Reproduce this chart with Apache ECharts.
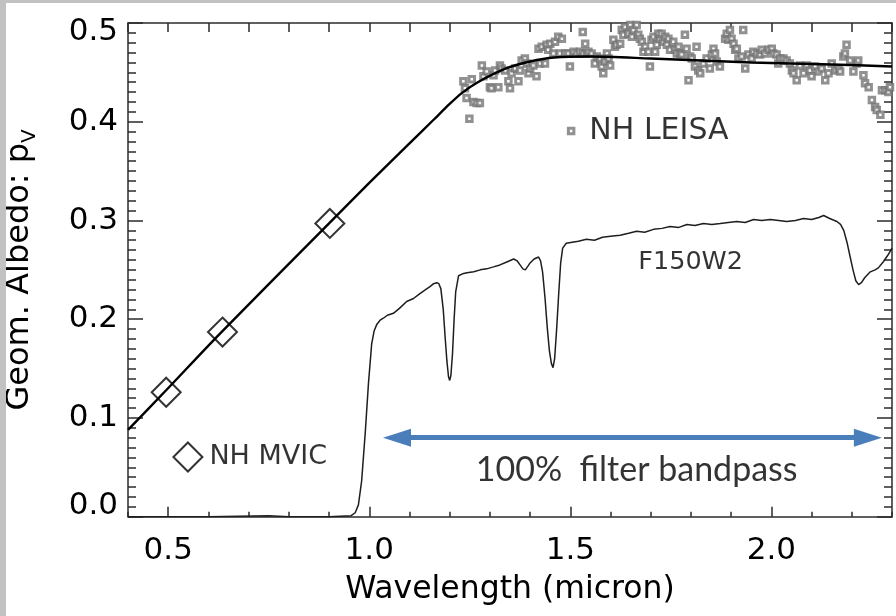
<!DOCTYPE html>
<html>
<head>
<meta charset="utf-8">
<script src="https://cdn.jsdelivr.net/npm/echarts@6/dist/echarts.min.js"></script>
<style>
  html, body { margin: 0; padding: 0; background: #c2c2c2; width: 896px; height: 616px; overflow: hidden; }
  #chart { position: absolute; left: 6px; top: 3px; width: 890px; height: 613px; }
  #probe { position: absolute; left: -2000px; top: 0; width: 890px; height: 613px; }
  #note { position: absolute; left: 140px; top: 40px; font: 11px monospace; white-space: pre; color: #c00; }
</style>
</head>
<body>
<div id="chart"></div>
<div id="probe"></div>
<pre id="note"></pre>
<script>
// Hapke-style model fit through the albedo points (micron, geometric albedo)
const modelWave   = [0.40, 0.49, 0.63, 0.90, 1.00, 1.10, 1.16, 1.20, 1.23, 1.27, 1.34, 1.40, 1.46, 1.55, 1.70, 1.95, 2.15, 2.30];
const modelAlbedo = [0.088, 0.126, 0.186, 0.297, 0.338, 0.378, 0.402, 0.418, 0.429, 0.440, 0.454, 0.461, 0.465, 0.466, 0.464, 0.460, 0.458, 0.456];

// New Horizons MVIC photometry
const mvicWave   = [0.495, 0.635, 0.902];
const mvicAlbedo = [0.126, 0.187, 0.297];

// New Horizons LEISA spectrum
const leisaWave = [
  1.234, 1.238, 1.242, 1.249, 1.255, 1.259, 1.267, 1.275, 1.280, 1.284, 1.292, 1.300, 1.304, 1.309, 1.313, 1.321,
  1.325, 1.329, 1.338, 1.346, 1.350, 1.354, 1.363, 1.371, 1.375, 1.379, 1.387, 1.392, 1.396, 1.400, 1.408, 1.416,
  1.421, 1.425, 1.429, 1.437, 1.441, 1.445, 1.450, 1.458, 1.462, 1.470, 1.474, 1.479, 1.487, 1.495, 1.499, 1.508,
  1.516, 1.524, 1.531, 1.532, 1.537, 1.541, 1.545, 1.553, 1.561, 1.566, 1.574, 1.578, 1.582, 1.586, 1.591, 1.595,
  1.599, 1.607, 1.611, 1.615, 1.624, 1.628, 1.632, 1.636, 1.644, 1.649, 1.653, 1.657, 1.665, 1.669, 1.673, 1.678,
  1.682, 1.686, 1.694, 1.698, 1.702, 1.707, 1.711, 1.715, 1.719, 1.723, 1.727, 1.731, 1.736, 1.740, 1.744, 1.748,
  1.756, 1.760, 1.765, 1.769, 1.773, 1.777, 1.785, 1.789, 1.794, 1.798, 1.802, 1.810, 1.814, 1.818, 1.823, 1.831,
  1.839, 1.847, 1.852, 1.856, 1.860, 1.864, 1.872, 1.885, 1.889, 1.893, 1.897, 1.901, 1.906, 1.910, 1.914, 1.918,
  1.926, 1.930, 1.935, 1.943, 1.951, 1.955, 1.964, 1.972, 1.976, 1.984, 1.993, 2.001, 2.005, 2.013, 2.017, 2.022,
  2.030, 2.038, 2.046, 2.051, 2.055, 2.063, 2.071, 2.080, 2.088, 2.096, 2.100, 2.109, 2.117, 2.125, 2.134, 2.142,
  2.150, 2.159, 2.167, 2.171, 2.179, 2.183, 2.187, 2.196, 2.204, 2.212, 2.216, 2.229, 2.233, 2.242, 2.250, 2.258,
  2.262, 2.271, 2.275, 2.283, 2.291, 2.295
];
const leisaAlbedo = [
  0.441, 0.434, 0.424, 0.403, 0.443, 0.420, 0.419, 0.419, 0.457, 0.446, 0.451, 0.435, 0.434, 0.447, 0.452, 0.435,
  0.457, 0.454, 0.452, 0.441, 0.434, 0.449, 0.454, 0.441, 0.452, 0.462, 0.464, 0.459, 0.449, 0.454, 0.457, 0.446,
  0.474, 0.459, 0.476, 0.459, 0.478, 0.473, 0.479, 0.469, 0.481, 0.486, 0.469, 0.484, 0.469, 0.469, 0.456, 0.471,
  0.469, 0.471, 0.491, 0.469, 0.479, 0.469, 0.471, 0.469, 0.459, 0.466, 0.464, 0.456, 0.449, 0.461, 0.469, 0.464,
  0.457, 0.483, 0.476, 0.478, 0.479, 0.493, 0.488, 0.496, 0.489, 0.498, 0.486, 0.493, 0.498, 0.488, 0.484, 0.481,
  0.471, 0.476, 0.471, 0.456, 0.483, 0.486, 0.471, 0.478, 0.489, 0.484, 0.489, 0.481, 0.486, 0.478, 0.484, 0.473,
  0.481, 0.473, 0.469, 0.476, 0.469, 0.468, 0.488, 0.474, 0.442, 0.466, 0.464, 0.456, 0.476, 0.452, 0.449, 0.459,
  0.464, 0.454, 0.468, 0.474, 0.469, 0.461, 0.456, 0.484, 0.489, 0.483, 0.493, 0.484, 0.479, 0.473, 0.474, 0.464,
  0.466, 0.493, 0.454, 0.468, 0.464, 0.471, 0.469, 0.468, 0.473, 0.469, 0.473, 0.474, 0.469, 0.468, 0.459, 0.464,
  0.464, 0.462, 0.459, 0.452, 0.449, 0.442, 0.457, 0.449, 0.457, 0.452, 0.446, 0.456, 0.451, 0.454, 0.442, 0.449,
  0.459, 0.452, 0.454, 0.451, 0.466, 0.469, 0.478, 0.462, 0.451, 0.459, 0.462, 0.447, 0.439, 0.435, 0.422, 0.415,
  0.412, 0.407, 0.432, 0.432, 0.430, 0.435
];

// JWST NIRCam F150W2 filter throughput curve
const filterWave = [
  0.40, 0.60, 0.75, 0.80, 0.90, 0.955, 0.965, 0.973, 0.981, 0.990, 0.998, 1.006, 1.012, 1.019, 1.027, 1.035,
  1.045, 1.060, 1.075, 1.093, 1.110, 1.126, 1.140, 1.151, 1.160, 1.168, 1.173, 1.178, 1.184, 1.189, 1.193, 1.197,
  1.200, 1.203, 1.207, 1.211, 1.215, 1.222, 1.232, 1.243, 1.260, 1.276, 1.292, 1.309, 1.325, 1.342, 1.359, 1.368,
  1.375, 1.382, 1.388, 1.395, 1.400, 1.410, 1.421, 1.426, 1.431, 1.437, 1.443, 1.448, 1.453, 1.457, 1.461, 1.466,
  1.471, 1.476, 1.481, 1.490, 1.505, 1.520, 1.540, 1.560, 1.580, 1.600, 1.624, 1.645, 1.665, 1.685, 1.707, 1.728,
  1.748, 1.770, 1.790, 1.810, 1.831, 1.852, 1.873, 1.893, 1.914, 1.935, 1.956, 1.976, 1.997, 2.018, 2.038, 2.060,
  2.080, 2.100, 2.118, 2.130, 2.145, 2.163, 2.172, 2.180, 2.188, 2.196, 2.203, 2.210, 2.217, 2.224, 2.232, 2.246,
  2.258, 2.266, 2.278, 2.290, 2.300
];
const filterThroughput = [
  0.000, 0.000, 0.001, 0.000, 0.000, 0.001, 0.004, 0.012, 0.036, 0.085, 0.135, 0.175, 0.188, 0.195, 0.199, 0.201,
  0.204, 0.206, 0.211, 0.218, 0.221, 0.226, 0.230, 0.233, 0.236, 0.237, 0.236, 0.231, 0.210, 0.180, 0.158, 0.142,
  0.138, 0.143, 0.165, 0.200, 0.228, 0.244, 0.246, 0.247, 0.248, 0.250, 0.251, 0.253, 0.255, 0.258, 0.261, 0.259,
  0.255, 0.251, 0.250, 0.254, 0.257, 0.261, 0.263, 0.259, 0.248, 0.222, 0.190, 0.168, 0.155, 0.151, 0.160, 0.190,
  0.225, 0.257, 0.272, 0.277, 0.278, 0.279, 0.281, 0.280, 0.283, 0.284, 0.285, 0.287, 0.289, 0.288, 0.291, 0.292,
  0.294, 0.293, 0.296, 0.295, 0.297, 0.296, 0.297, 0.298, 0.299, 0.298, 0.301, 0.300, 0.301, 0.300, 0.299, 0.300,
  0.302, 0.301, 0.303, 0.305, 0.302, 0.299, 0.296, 0.290, 0.278, 0.263, 0.250, 0.239, 0.235, 0.237, 0.242, 0.248,
  0.250, 0.252, 0.258, 0.265, 0.272
];

// Axis tick labels
const xTickLabels = [0.5, 1.0, 1.5, 2.0];

// In-plot key entries and notes: [wavelength, albedo]
const keyMvicAt  = [0.549, 0.0605];
const keyLeisaAt = [1.502, 0.3906];
const filterNoteAt = [1.669, 0.258];
const bandpassNoteAt = [1.665, 0.047];
// Bandpass arrow: ends (arrow-head centres) and level
const bandpassArrow = [1.069, 2.240];
const bandpassLevel = 0.080;

const helv = 'DejaVu Sans';
const ink = '#000';
const axisInk = '#2b2b2b';
const leisaGrey = '#767676';

const zip = (a, b) => a.map((v, i) => [v, b[i]]);

function buildOption() {
  const tickLine = { color: axisInk, width: 1.5 };
  return {
    animation: false,
    backgroundColor: '#ffffff',
    grid: { left: 122, right: 4, top: 20, bottom: 99.3, outerBoundsMode: 'none', containLabel: false },
    xAxis: [
      {
        type: 'value', position: 'bottom', min: 0.4, max: 2.3, interval: 0.1,
        axisLine: { show: true, onZero: false, lineStyle: tickLine },
        axisTick: { show: true, inside: true, length: 5, lineStyle: tickLine },
        splitLine: { show: false },
        axisLabel: {
          customValues: xTickLabels,
          formatter: v => v.toFixed(1),
          margin: 19, fontFamily: helv, fontSize: 31, color: ink
        },
        name: 'Wavelength (micron)', nameLocation: 'middle', nameGap: 57, nameMoveOverlap: false,
        nameTextStyle: { fontFamily: helv, fontSize: 31.5, color: ink }
      },
      {
        type: 'value', position: 'bottom', min: 0.4, max: 2.3, interval: 0.1,
        axisLine: { show: false, onZero: false },
        axisTick: { show: true, inside: true, length: 10, customValues: xTickLabels, lineStyle: tickLine },
        axisLabel: { show: false },
        splitLine: { show: false }
      },
      {
        type: 'value', position: 'top', min: 0.4, max: 2.3, interval: 0.1,
        axisLine: { show: true, onZero: false, lineStyle: tickLine },
        axisTick: { show: true, inside: true, length: 9, lineStyle: tickLine },
        axisLabel: { show: false },
        splitLine: { show: false }
      }
    ],
    yAxis: [
      {
        type: 'value', position: 'left', min: 0, max: 0.5, interval: 0.1,
        axisLine: { show: true, onZero: false, lineStyle: tickLine },
        axisTick: { show: true, inside: true, length: 15, lineStyle: tickLine },
        minorTick: { show: true, splitNumber: 10, length: 8, lineStyle: tickLine },
        splitLine: { show: false },
        minorSplitLine: { show: false },
        axisLabel: {
          margin: 10, fontFamily: helv, fontSize: 31, color: ink,
          formatter: v => {
            const s = v.toFixed(1);
            if (v > 0.4999) return '{hi|' + s + '}';
            if (v < 0.0001) return '{lo|' + s + '}';
            return s;
          },
          rich: {
            hi: { fontFamily: helv, fontSize: 31, color: ink, padding: [18, 0, 0, 0] },
            lo: { fontFamily: helv, fontSize: 31, color: ink, padding: [0, 0, 21, 0] }
          }
        },
        name: '{m|Geom. Albedo: p}{s|V}', nameLocation: 'middle', nameGap: 88, nameRotate: 90,
        nameMoveOverlap: false,
        nameTextStyle: {
          fontFamily: helv, fontSize: 32, color: ink,
          rich: {
            m: { fontFamily: helv, fontSize: 32, color: ink, lineHeight: 40, verticalAlign: 'middle' },
            s: { fontFamily: helv, fontSize: 20, color: ink, lineHeight: 20, verticalAlign: 'bottom' }
          }
        }
      },
      {
        type: 'value', position: 'right', min: 0, max: 0.5, interval: 0.1,
        axisLine: { show: true, onZero: false, lineStyle: tickLine },
        axisTick: { show: true, inside: true, length: 15, lineStyle: tickLine },
        minorTick: { show: true, splitNumber: 10, length: 8, lineStyle: tickLine },
        splitLine: { show: false },
        minorSplitLine: { show: false },
        axisLabel: { show: false }
      }
    ],
    series: [
      {
        name: 'F150W2', type: 'line', xAxisIndex: 0, yAxisIndex: 0,
        data: zip(filterWave, filterThroughput),
        showSymbol: false, symbol: 'none', smooth: false,
        lineStyle: { color: '#1e1e1e', width: 1.5 }
      },
      {
        name: 'Model', type: 'line', xAxisIndex: 0, yAxisIndex: 0,
        data: zip(modelWave, modelAlbedo),
        showSymbol: false, symbol: 'none', smooth: 0.3,
        lineStyle: { color: '#000', width: 2.4 }
      },
      {
        name: 'NH MVIC', type: 'scatter', xAxisIndex: 0, yAxisIndex: 0,
        data: zip(mvicWave, mvicAlbedo),
        symbol: 'diamond', symbolSize: 29,
        itemStyle: { color: '#ffffff', borderColor: '#000', borderWidth: 2 }
      },
      {
        name: 'NH LEISA', type: 'scatter', xAxisIndex: 0, yAxisIndex: 0,
        data: zip(leisaWave, leisaAlbedo),
        symbol: 'rect', symbolSize: 5.5,
        itemStyle: { color: '#ffffff', borderColor: leisaGrey, borderWidth: 3 }
      },
      {
        name: 'notes', type: 'scatter', xAxisIndex: 0, yAxisIndex: 0,
        data: [
          {
            value: keyMvicAt, symbol: 'diamond', symbolSize: 29,
            itemStyle: { color: '#ffffff', borderColor: '#000', borderWidth: 2 },
            label: { show: true, position: 'right', distance: 6, formatter: 'NH MVIC',
                     fontFamily: helv, fontSize: 27, color: ink }
          },
          {
            value: keyLeisaAt, symbol: 'rect', symbolSize: 5.5,
            itemStyle: { color: '#ffffff', borderColor: leisaGrey, borderWidth: 3 },
            label: { show: true, position: 'right', distance: 14, formatter: 'NH LEISA',
                     fontFamily: helv, fontSize: 30, color: ink }
          },
          {
            value: filterNoteAt, symbol: 'circle', symbolSize: 0,
            itemStyle: { color: 'rgba(0,0,0,0)' },
            label: { show: true, position: 'right', distance: 0, formatter: 'F150W2',
                     fontFamily: helv, fontSize: 25.5, color: ink }
          },
          {
            value: bandpassNoteAt, symbol: 'circle', symbolSize: 0,
            itemStyle: { color: 'rgba(0,0,0,0)' },
            label: { show: true, position: 'inside', formatter: '100%  filter bandpass',
                     fontFamily: 'Lato', fontSize: 34, color: '#000' }
          }
        ],
        markLine: {
          silent: true, animation: false,
          symbol: ['triangle', 'triangle'], symbolSize: [18, 28],
          label: { show: false },
          lineStyle: { color: '#4a7ebb', width: 5, type: 'solid' },
          data: [[
            { coord: [bandpassArrow[0], bandpassLevel] },
            { coord: [bandpassArrow[1], bandpassLevel] }
          ]]
        }
      }
    ]
  };
}

function countAxisLines(c) {
  let n = 0;
  c.getZr().storage.getDisplayList(true).forEach(el => {
    if (el.type === 'line' && el.style && el.style.stroke === axisInk) n++;
  });
  return n;
}

const chart = echarts.init(document.getElementById('chart'));
chart.setOption(buildOption());

// Self-check of the axis tick marks; reports only when they are missing.
const drawn = countAxisLines(chart);
if (drawn < 100) {
  let s = 'axis lines: ' + drawn + '\n';
  const names = ['F150W2', 'Model', 'NH MVIC', 'NH LEISA', 'notes'];
  names.forEach((nm, i) => {
    const p = echarts.init(document.getElementById('probe'));
    const o = buildOption();
    o.series.splice(i, 1);
    p.setOption(o);
    s += 'without ' + nm + ': ' + countAxisLines(p) + '\n';
    p.dispose();
  });
  document.getElementById('note').textContent = s;
}
</script>
</body>
</html>
